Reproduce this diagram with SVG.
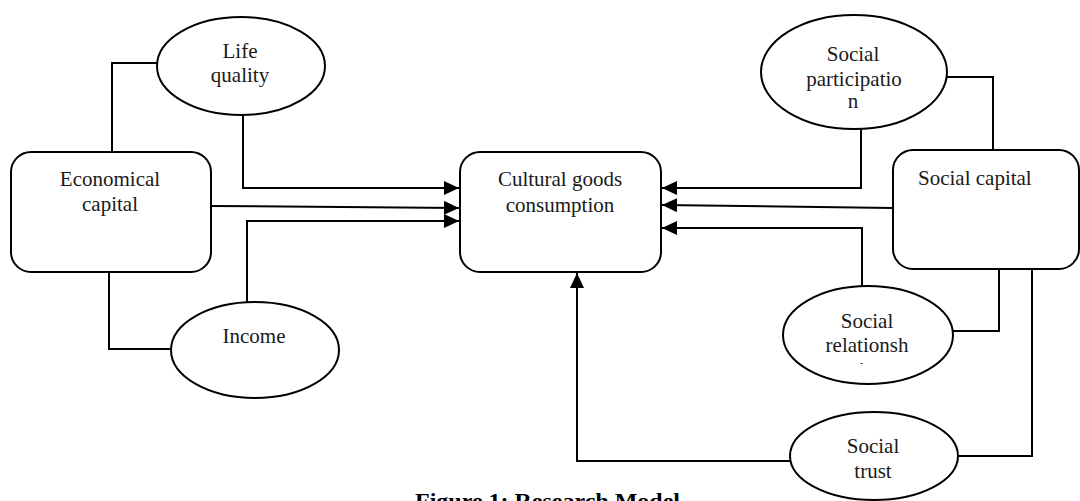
<svg xmlns="http://www.w3.org/2000/svg" width="1080" height="501" viewBox="0 0 1080 501">
<style>
.shape{fill:#fff;stroke:#000;stroke-width:2}
.t{font-family:"Liberation Serif","Times New Roman",serif;font-size:21px;fill:#1a1a1a;text-anchor:middle}
.cap{font-family:"Liberation Serif","Times New Roman",serif;font-size:22px;font-weight:bold;fill:#000}
.ln{fill:none;stroke:#000;stroke-width:2}
</style>
<defs>
<marker id="ah" markerUnits="userSpaceOnUse" markerWidth="16" markerHeight="14" refX="15" refY="7" orient="auto">
<path d="M0,0 L15,7 L0,14 z" fill="#000"/>
</marker>
<clipPath id="relclip"><rect x="780" y="280" width="180" height="84"/></clipPath>
</defs>
<rect width="1080" height="501" fill="#fff"/>
<g id="connectors">
<path class="ln" d="M243,115 V188 H459" marker-end="url(#ah)"/>
<path class="ln" d="M211,206 L459,208" marker-end="url(#ah)"/>
<path class="ln" d="M247,302 V221 H459" marker-end="url(#ah)"/>
<path class="ln" d="M157,63 H112 V152"/>
<path class="ln" d="M109,272 V349 H171"/>
<path class="ln" d="M861,129 V188 H662" marker-end="url(#ah)"/>
<path class="ln" d="M893,208 L662,205" marker-end="url(#ah)"/>
<path class="ln" d="M862,287 V228 H662" marker-end="url(#ah)"/>
<path class="ln" d="M947,77 H993 V150"/>
<path class="ln" d="M953,331 H999 V269"/>
<path class="ln" d="M958,456 H1032 V269"/>
<path class="ln" d="M790,461 H577 V273" marker-end="url(#ah)"/>
</g>
<g id="life-quality">
<ellipse class="shape" cx="241" cy="66" rx="84" ry="49"/>
<text class="t" x="240" y="58">Life</text>
<text class="t" x="240" y="82">quality</text>
</g>
<g id="economical-capital">
<rect class="shape" x="11" y="152" width="200" height="120" rx="20"/>
<text class="t" x="110" y="186">Economical</text>
<text class="t" x="110" y="211">capital</text>
</g>
<g id="income">
<ellipse class="shape" cx="255" cy="350" rx="84" ry="48"/>
<text class="t" x="254" y="343">Income</text>
</g>
<g id="cultural-goods">
<rect class="shape" x="460" y="152" width="201" height="120" rx="20"/>
<text class="t" x="560" y="186">Cultural goods</text>
<text class="t" x="560" y="212">consumption</text>
</g>
<g id="social-participation">
<ellipse class="shape" cx="854" cy="72" rx="93" ry="57"/>
<text class="t" x="853" y="61">Social</text>
<text class="t" x="854" y="86">participatio</text>
<text class="t" x="853" y="108">n</text>
</g>
<g id="social-capital">
<rect class="shape" x="893" y="150" width="186" height="119" rx="20"/>
<text class="t" x="918" y="185" style="text-anchor:start">Social capital</text>
</g>
<g id="social-relationship">
<ellipse class="shape" cx="868" cy="335" rx="85" ry="49"/>
<text class="t" x="867" y="328">Social</text>
<text class="t" x="867" y="352">relationsh</text>
<text class="t" x="867" y="377" clip-path="url(#relclip)">ip</text>
</g>
<g id="social-trust">
<ellipse class="shape" cx="874" cy="456" rx="84" ry="44"/>
<text class="t" x="873" y="453">Social</text>
<text class="t" x="873" y="478">trust</text>
</g>
<g id="caption">
<text class="cap" x="415" y="508" textLength="265" lengthAdjust="spacingAndGlyphs">Figure 1: Research Model</text>
</g>
</svg>
